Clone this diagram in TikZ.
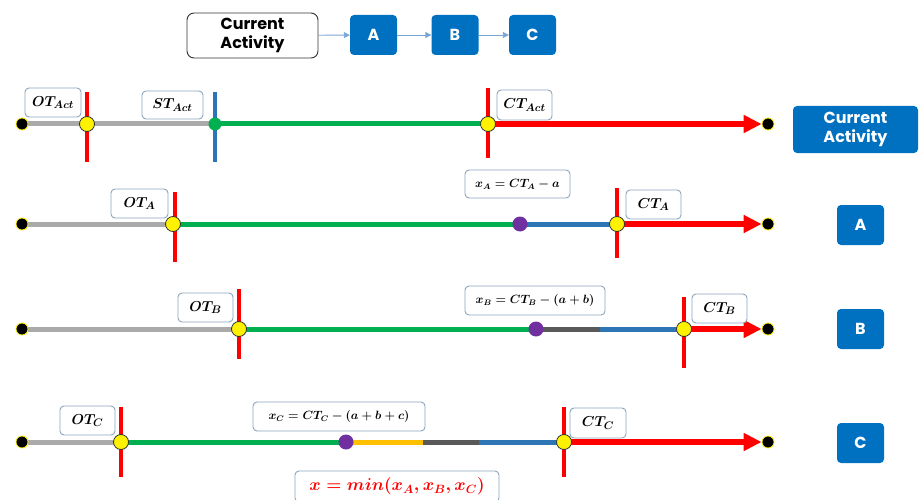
\documentclass[tikz,border=0pt]{standalone}
\usepackage{fontspec}
\usepackage{amsmath}
\newfontfamily\boxfont{Poppins}
\usetikzlibrary{arrows.meta,backgrounds}
\definecolor{lgray}{RGB}{170,170,170}
\definecolor{lgreen}{RGB}{0,176,80}
\definecolor{tblue}{RGB}{46,117,182}
\definecolor{dgray}{RGB}{89,89,89}
\definecolor{lorange}{RGB}{255,192,0}
\definecolor{lpurple}{RGB}{112,48,160}
\definecolor{bbox}{RGB}{0,112,192}
\definecolor{lbord}{RGB}{140,165,190}
\definecolor{flow}{RGB}{120,165,215}
\tikzset{
  seg/.style={line width=5pt},
  redtick/.style={red, line width=4.5pt},
  bluetick/.style={tblue, line width=4.5pt},
  redarrow/.style={red, line width=6pt, -{Triangle[length=18pt,width=17pt]}},
  enddot/.style={circle, fill=black, draw=yellow, line width=0.8pt, minimum size=12pt, inner sep=0pt},
  ydot/.style={circle, fill=yellow, draw=black!80, line width=0.8pt, minimum size=15pt, inner sep=0pt},
  gdot/.style={circle, fill=lgreen, minimum size=13pt, inner sep=0pt},
  pdot/.style={circle, fill=lpurple, minimum size=15pt, inner sep=0pt},
  lbl/.style={draw=lbord, line width=0.9pt, rounded corners=4pt, fill=white, inner sep=2pt,
    font=\fontsize{15.5}{18}\selectfont\boldmath},
  flbl/.style={draw=lbord, line width=0.9pt, rounded corners=4pt, fill=white, inner sep=2pt,
    font=\fontsize{11.5}{13}\selectfont\boldmath},
  bluebox/.style={fill=bbox, rounded corners=4pt, text=white, inner sep=0pt,
    font=\boxfont\bfseries\fontsize{16}{19.5}\selectfont, align=center},
  whitebox/.style={draw=black!80, line width=0.9pt, rounded corners=7pt, fill=white, inner sep=0pt,
    font=\boxfont\bfseries\fontsize{16}{19.5}\selectfont, align=center},
  flowarrow/.style={flow, line width=0.9pt, -{Triangle[length=6pt,width=6pt]}}
}
\begin{document}
\begin{tikzpicture}[x=1pt,y=-1pt]
\useasboundingbox (0,0) rectangle (923,500);
% top flow
\node[whitebox, minimum width=131pt, minimum height=45pt] (cur) at (252.5,35.5) {Current\\Activity};
\node[bluebox, minimum width=47pt, minimum height=40pt] (fa) at (373.5,35) {A};
\node[bluebox, minimum width=47pt, minimum height=40pt] (fb) at (455,35) {B};
\node[bluebox, minimum width=47pt, minimum height=40pt] (fc) at (532.5,35) {C};
\draw[flowarrow] (cur) -- (fa);
\draw[flowarrow] (fa) -- (fb);
\draw[flowarrow] (fb) -- (fc);

% right boxes
\node[bluebox, minimum width=125pt, minimum height=47pt] (rcur) at (855.5,129.5) {Current\\Activity};
\node[bluebox, minimum width=47pt, minimum height=40pt] (ra) at (860.5,225) {A};
\node[bluebox, minimum width=47pt, minimum height=40pt] (rb) at (860.5,329) {B};
\node[bluebox, minimum width=47pt, minimum height=40pt] (rc) at (860.5,443) {C};

% ---- row 1 ----
\node[enddot] (s1) at (22,124) {};
\node[ydot] (o1) at (87,124) {};
\node[gdot] (st1) at (215,124) {};
\node[ydot] (c1) at (488,124) {};
\node[enddot] (e1) at (768,124) {};
\coordinate (o1t) at (87,92); \coordinate (o1b) at (87,162);
\coordinate (st1t) at (215,92); \coordinate (st1b) at (215,162);
\coordinate (c1t) at (488,88); \coordinate (c1b) at (488,158);
\node[lbl, minimum width=56pt, minimum height=29pt] (l1a) at (53,102.5) {$OT_{Act}$};
\node[lbl, minimum width=61pt, minimum height=28pt] (l1b) at (172.5,105) {$ST_{Act}$};
\node[lbl, minimum width=55pt, minimum height=30pt] (l1c) at (524.5,105) {$CT_{Act}$};

% ---- row 2 ----
\node[enddot] (s2) at (22,224) {};
\node[ydot] (o2) at (173,224) {};
\node[pdot] (x2) at (520,224) {};
\node[ydot] (c2) at (617,224) {};
\node[enddot] (e2) at (768,224) {};
\coordinate (o2t) at (175,192); \coordinate (o2b) at (175,262);
\coordinate (c2t) at (617,188); \coordinate (c2b) at (617,258);
\node[lbl, minimum width=57pt, minimum height=29pt] (l2a) at (139.5,203.5) {$OT_{A}$};
\node[flbl, minimum width=105pt, minimum height=28pt] (l2x) at (517.5,184) {$x_A = CT_A - a$};
\node[lbl, minimum width=55pt, minimum height=29pt] (l2c) at (653.5,204.5) {$CT_{A}$};

% ---- row 3 ----
\node[enddot] (s3) at (22,329) {};
\node[ydot] (o3) at (239,329) {};
\node[pdot] (x3) at (536,329) {};
\coordinate (d3) at (600,329);
\node[ydot] (c3) at (684,329) {};
\node[enddot] (e3) at (768,329) {};
\coordinate (o3t) at (239,289); \coordinate (o3b) at (239,359);
\coordinate (c3t) at (684,297); \coordinate (c3b) at (684,368);
\node[lbl, minimum width=55pt, minimum height=29pt] (l3a) at (205.5,307.5) {$OT_{B}$};
\node[flbl, minimum width=140pt, minimum height=29pt] (l3x) at (535,300.5) {$x_B = CT_B - (a+b)$};
\node[lbl, minimum width=55pt, minimum height=29pt] (l3c) at (719.5,308.5) {$CT_{B}$};

% ---- row 4 ----
\node[enddot] (s4) at (22,442) {};
\node[ydot] (o4) at (121,442) {};
\node[pdot] (x4) at (346,442) {};
\coordinate (y4) at (423,442);
\coordinate (d4) at (479,442);
\node[ydot] (c4) at (564,442) {};
\node[enddot] (e4) at (768,442) {};
\coordinate (o4t) at (121,407); \coordinate (o4b) at (121,477);
\coordinate (c4t) at (564,407); \coordinate (c4b) at (564,477);
\node[lbl, minimum width=55pt, minimum height=29pt] (l4a) at (87.5,420.5) {$OT_{C}$};
\node[flbl, minimum width=172pt, minimum height=29pt] (l4x) at (339,416.5) {$x_C = CT_C - (a+b+c)$};
\node[lbl, minimum width=56pt, minimum height=30pt] (l4c) at (598,423) {$CT_{C}$};
\node[draw=lbord, line width=0.9pt, rounded corners=4pt, fill=white, text=red,
  minimum width=204pt, minimum height=31pt, inner sep=0pt,
  font=\fontsize{18}{20}\selectfont\boldmath] (fm) at (397,486.5) {$x = min(x_A, x_B, x_C)$};

\begin{scope}[on background layer]
  % row 1
  \draw[seg, lgray] (s1.center) -- (st1.center);
  \draw[seg, lgreen] (st1.center) -- (c1.center);
  \draw[redarrow] (c1.center) -- (e1);
  \draw[redtick] (o1t) -- (o1b);
  \draw[bluetick] (st1t) -- (st1b);
  \draw[redtick] (c1t) -- (c1b);
  % row 2
  \draw[seg, lgray] (s2.center) -- (o2.center);
  \draw[seg, lgreen] (o2.center) -- (x2.center);
  \draw[seg, tblue] (x2.center) -- (c2.center);
  \draw[redarrow] (c2.center) -- (e2);
  \draw[redtick] (o2t) -- (o2b);
  \draw[redtick] (c2t) -- (c2b);
  % row 3
  \draw[seg, lgray] (s3.center) -- (o3.center);
  \draw[seg, lgreen] (o3.center) -- (x3.center);
  \draw[seg, dgray] (x3.center) -- (d3);
  \draw[seg, tblue] (d3) -- (c3.center);
  \draw[redarrow] (c3.center) -- (e3);
  \draw[redtick] (o3t) -- (o3b);
  \draw[redtick] (c3t) -- (c3b);
  % row 4
  \draw[seg, lgray] (s4.center) -- (o4.center);
  \draw[seg, lgreen] (o4.center) -- (x4.center);
  \draw[seg, lorange] (x4.center) -- (y4);
  \draw[seg, dgray] (y4) -- (d4);
  \draw[seg, tblue] (d4) -- (c4.center);
  \draw[redarrow] (c4.center) -- (e4);
  \draw[redtick] (o4t) -- (o4b);
  \draw[redtick] (c4t) -- (c4b);
\end{scope}
\end{tikzpicture}
\end{document}
